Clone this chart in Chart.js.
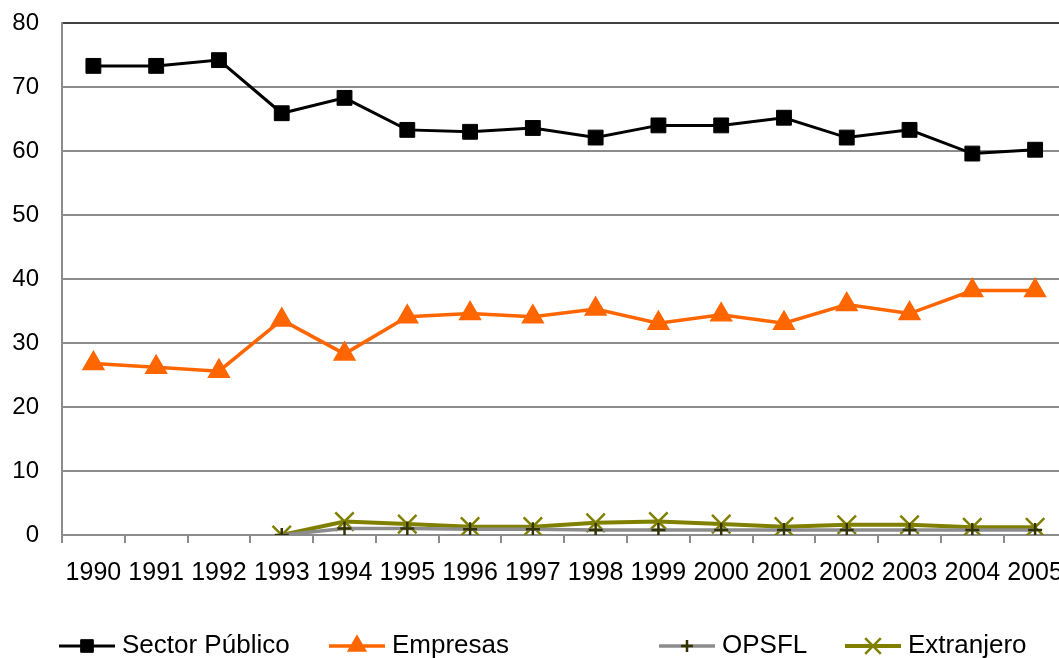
<!DOCTYPE html>
<html>
<head>
<meta charset="utf-8">
<script src="https://cdn.jsdelivr.net/npm/chart.js@4.4.1/dist/chart.umd.min.js"></script>
<style>
  html, body { margin: 0; padding: 0; overflow: hidden; background: #fff; }
  #wrap { width: 1082px; height: 658px; }
</style>
</head>
<body>
<div id="wrap"><canvas id="chart" width="1082" height="658"></canvas></div>
<script>
var years = ['1990', '1991', '1992', '1993', '1994', '1995', '1996', '1997',
             '1998', '1999', '2000', '2001', '2002', '2003', '2004', '2005'];
var sectorPublico = [73.3, 73.3, 74.2, 65.9, 68.3, 63.3, 63.0, 63.6,
                     62.1, 64.0, 64.0, 65.2, 62.1, 63.3, 59.6, 60.2];
var empresas = [26.8, 26.2, 25.6, 33.6, 28.3, 34.1, 34.6, 34.1,
                35.3, 33.1, 34.4, 33.1, 36.0, 34.6, 38.2, 38.2];
var opsfl = [null, null, null, 0, 1.0, 1.0, 0.9, 0.9,
             0.8, 0.8, 0.8, 0.8, 0.8, 0.8, 0.8, 0.8];
var extranjero = [null, null, null, 0, 2.1, 1.7, 1.3, 1.3,
                  1.9, 2.1, 1.7, 1.3, 1.6, 1.6, 1.2, 1.2];
var seriesNames = ['Sector Público', 'Empresas', 'OPSFL', 'Extranjero'];

// x where each legend entry starts (the legend is not evenly spaced)
var legendX = [59, 329, 659, 845];

Chart.defaults.font.family = '"Liberation Sans", Arial, sans-serif';
Chart.defaults.color = '#000';

var bottomLegend = {
  id: 'bottomLegend',
  afterDraw: function(chart) {
    var ctx = chart.ctx;
    var y = 646;
    chart.data.datasets.forEach(function(ds, i) {
      var x = legendX[i];
      ctx.save();
      ctx.strokeStyle = ds.borderColor;
      ctx.lineWidth = ds.borderWidth;
      ctx.beginPath();
      ctx.moveTo(x, y);
      ctx.lineTo(x + 56, y);
      ctx.stroke();
      ctx.fillStyle = ds.pointBackgroundColor;
      ctx.strokeStyle = ds.pointBorderColor;
      ctx.lineWidth = ds.pointBorderWidth;
      Chart.helpers.drawPoint(ctx, {
        pointStyle: ds.pointStyle,
        radius: ds.pointRadius * 0.85,
        borderWidth: ds.pointBorderWidth,
        rotation: 0
      }, x + 28, y);
      ctx.fillStyle = '#000';
      ctx.font = '26px "Liberation Sans", Arial, sans-serif';
      ctx.textBaseline = 'middle';
      ctx.fillText(ds.label, x + 63, y);
      ctx.restore();
    });
  }
};

var ctx = document.getElementById('chart');

new Chart(ctx, {
  type: 'line',
  data: {
    labels: years,
    datasets: [{
      label: seriesNames[0],
      data: sectorPublico,
      borderColor: '#000',
      borderWidth: 3,
      pointStyle: 'rect',
      pointRadius: 10.5,
      pointBorderWidth: 1,
      pointBackgroundColor: '#000',
      pointBorderColor: '#000'
    }, {
      label: seriesNames[1],
      data: empresas,
      borderColor: '#FF6600',
      borderWidth: 3.5,
      pointStyle: 'triangle',
      pointRadius: 12,
      pointBorderWidth: 1.5,
      pointBackgroundColor: '#FF6600',
      pointBorderColor: '#FF6600'
    }, {
      label: seriesNames[2],
      data: opsfl,
      borderColor: '#8C8C8C',
      borderWidth: 3.5,
      pointStyle: 'cross',
      pointRadius: 7,
      pointBorderWidth: 2.5,
      pointBackgroundColor: '#333300',
      pointBorderColor: '#333300'
    }, {
      label: seriesNames[3],
      data: extranjero,
      borderColor: '#808000',
      borderWidth: 4,
      pointStyle: 'crossRot',
      pointRadius: 13,
      pointBorderWidth: 2.5,
      pointBackgroundColor: '#808000',
      pointBorderColor: '#808000'
    }]
  },
  options: {
    responsive: false,
    animation: false,
    layout: {
      padding: { top: 23, left: 0, right: 0, bottom: 55 }
    },
    plugins: {
      legend: { display: false },
      title: { display: false },
      tooltip: { enabled: false }
    },
    scales: {
      x: {
        offset: true,
        grid: {
          offset: true,
          drawOnChartArea: false,
          drawTicks: true,
          tickLength: 8,
          color: '#8C8C8C',
          lineWidth: 2
        },
        border: { display: true, color: '#8C8C8C', width: 2 },
        ticks: {
          font: { size: 25 },
          padding: 15,
          maxRotation: 0,
          autoSkip: false
        }
      },
      y: {
        min: 0,
        max: 80,
        afterFit: function(scale) { scale.width = 62; },
        grid: {
          drawTicks: true,
          tickLength: 23,
          tickColor: 'rgba(0,0,0,0)',
          color: function(c) { return c.tick && c.tick.value === 80 ? '#404040' : '#8C8C8C'; },
          lineWidth: 2
        },
        border: { display: true, color: '#8C8C8C', width: 2 },
        ticks: {
          stepSize: 10,
          font: { size: 24 },
          padding: 0
        }
      }
    }
  },
  plugins: [bottomLegend]
});
</script>
</body>
</html>
